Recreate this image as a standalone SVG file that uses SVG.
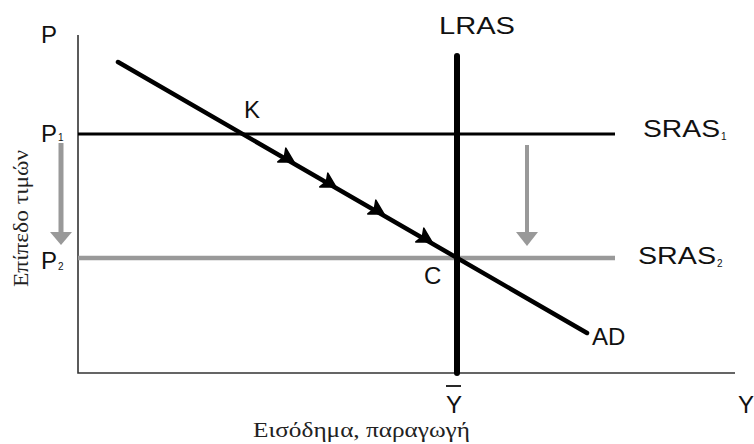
<svg xmlns="http://www.w3.org/2000/svg" width="754" height="444" viewBox="0 0 754 444">
<defs>
<style>
.lbl{font-family:"Liberation Sans",Arial,sans-serif;font-size:24px;fill:#111}
.sub{font-family:"Liberation Sans",Arial,sans-serif;font-size:10px;fill:#111}
.ser{font-family:"Liberation Serif","Times New Roman",serif;font-size:21px;fill:#222}
.axis{stroke:#333;stroke-width:1.6;fill:none}
.gray{fill:#999}
</style>
<path id="ah" d="M8,0 L-6,-8 L-3,0 L-6,8 Z" fill="#000" stroke="#000" stroke-width="1.5" stroke-linejoin="round"/>
</defs>
<rect width="754" height="444" fill="#fff"/>
<g id="axes">
<path class="axis" d="M78,35 V373 H735"/>
</g>
<g id="connectors">
<line id="sras1" x1="78" y1="134" x2="615" y2="134" stroke="#000" stroke-width="3"/>
<line id="sras2" x1="78" y1="258" x2="615" y2="258" stroke="#999" stroke-width="4.5"/>
<line id="ad" x1="118" y1="62" x2="587" y2="333" stroke="#000" stroke-width="4.5" stroke-linecap="round"/>
<line id="lras" x1="457" y1="56" x2="457" y2="373" stroke="#000" stroke-width="6" stroke-linecap="round"/>
<use href="#ah" transform="translate(287,158) rotate(30)"/>
<use href="#ah" transform="translate(329,183) rotate(30)"/>
<use href="#ah" transform="translate(377,210) rotate(30)"/>
<use href="#ah" transform="translate(425,238) rotate(30)"/>
<g id="shift-left">
<rect class="gray" x="58.5" y="143" width="5" height="90"/>
<path class="gray" d="M50,232 H72 L61,245 Z"/>
</g>
<g id="shift-right">
<rect class="gray" x="525" y="145" width="4" height="88"/>
<path class="gray" d="M516,232 H538 L527,246 Z"/>
</g>
</g>
<g id="labels">
<text class="lbl" x="41" y="43">P</text>
<text class="lbl" x="41" y="142">P</text><text class="sub" x="58" y="141">1</text>
<text class="lbl" x="41" y="269">P</text><text class="sub" x="58" y="270">2</text>
<text class="lbl" x="439" y="34" textLength="76" lengthAdjust="spacingAndGlyphs">LRAS</text>
<text class="lbl" x="244" y="118">K</text>
<text class="lbl" x="643" y="137" textLength="77" lengthAdjust="spacingAndGlyphs">SRAS</text><text class="sub" x="721" y="140">1</text>
<text class="lbl" x="638" y="264" textLength="78" lengthAdjust="spacingAndGlyphs">SRAS</text><text class="sub" x="717" y="267">2</text>
<text class="lbl" x="424" y="284">C</text>
<text class="lbl" x="592" y="345">AD</text>
<line x1="446" y1="386" x2="461" y2="386" stroke="#111" stroke-width="1.8"/>
<text class="lbl" x="446" y="413">Y</text>
<text class="lbl" x="738" y="413">Y</text>
<text class="ser" x="253" y="437" textLength="217" lengthAdjust="spacingAndGlyphs">Εισόδημα, παραγωγή</text>
<text class="ser" transform="translate(28,287) rotate(-90)" textLength="137" lengthAdjust="spacingAndGlyphs">Επίπεδο τιμών</text>
</g>
</svg>
